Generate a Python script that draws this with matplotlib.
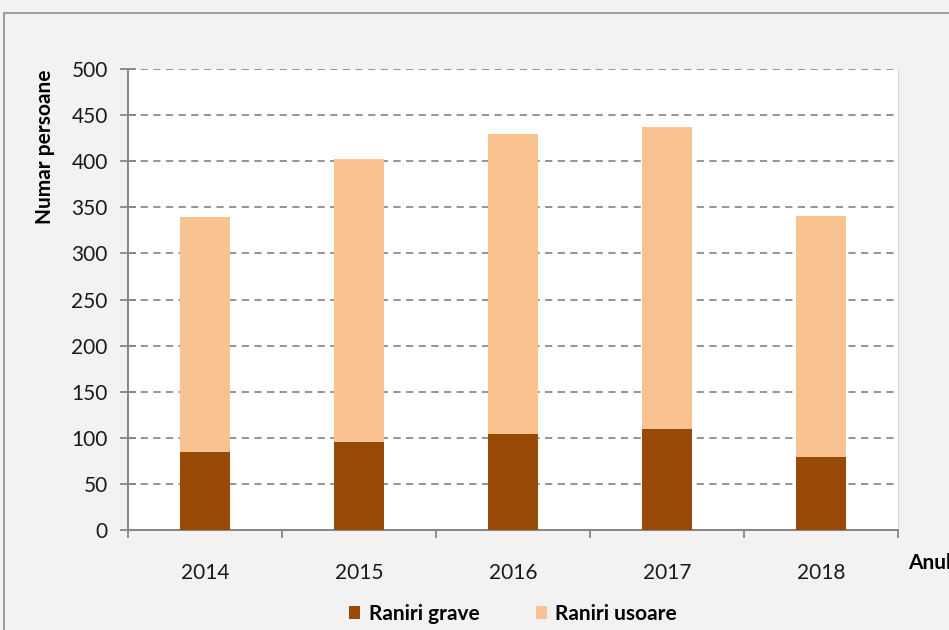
import matplotlib.pyplot as plt
from matplotlib.patches import Rectangle

years = ["2014", "2015", "2016", "2017", "2018"]
grave = [85, 95, 104, 110, 79]
usoare = [254, 307, 326, 327, 262]

DARK = "#994a06"
LIGHT = "#f9c291"
GRID = "#8c8c8c"
BG = "#f2f2f2"
FONT = ["Lato", "DejaVu Sans"]

plt.rcParams["font.family"] = FONT

fig = plt.figure(figsize=(9.49, 6.30), dpi=100, facecolor=BG)
# outer chart frame (cropped on right/bottom like the source)
fig.patches.append(Rectangle((4 / 949, -0.1), 1.2, 1.1 - 13 / 630,
                             transform=fig.transFigure, facecolor=BG,
                             edgecolor="#8c8c8c", linewidth=1.2, zorder=-10))

ax = fig.add_axes([128 / 949, 1 - 530 / 630, 770 / 949, 461 / 630])
ax.set_facecolor("white")

x = range(len(years))
ax.bar(x, grave, width=0.32, color=DARK, zorder=3, label="Raniri grave")
ax.bar(x, usoare, width=0.32, bottom=grave, color=LIGHT, zorder=3, label="Raniri usoare")

ax.set_xlim(-0.5, 4.5)
ax.set_ylim(0, 500)
ax.set_yticks(range(0, 501, 50))
ax.yaxis.grid(True, color=GRID, linestyle=(0, (4, 3)), linewidth=1.3, zorder=1)
ax.set_axisbelow(True)

ax.set_xticks(list(x))
ax.set_xticklabels(years)
ax.set_xticks([i + 0.5 for i in range(-1, 5)], minor=True)
ax.tick_params(axis="x", which="major", length=0, pad=24, labelsize=15, colors="#1a1a1a")
ax.tick_params(axis="x", which="minor", length=6, width=1.3, color="#868686", direction="out")
ax.tick_params(axis="y", length=11, width=1.3, color="#868686", direction="inout",
               pad=9, labelsize=15, labelcolor="#1a1a1a")

for side in ["left", "bottom"]:
    ax.spines[side].set_color("#868686")
    ax.spines[side].set_linewidth(1.4)
ax.spines["top"].set_visible(False)
ax.spines["right"].set_color("#d9d9d9")

fig.text(45 / 949, 1 - 147 / 630, "Numar persoane", rotation=90, fontsize=15,
         fontweight="bold", ha="center", va="center")
fig.text(908 / 949, 1 - 563 / 630, "Anul", fontsize=15, fontweight="bold",
         ha="left", va="center")

fig.legend(loc="center", bbox_to_anchor=(513 / 949, 1 - 614 / 630), ncol=2,
           frameon=False, handlelength=0.55, handleheight=0.55, columnspacing=2.7,
           handletextpad=0.4, prop={"weight": "bold", "size": 15})

fig.savefig("out.png", dpi=100, facecolor=BG)
